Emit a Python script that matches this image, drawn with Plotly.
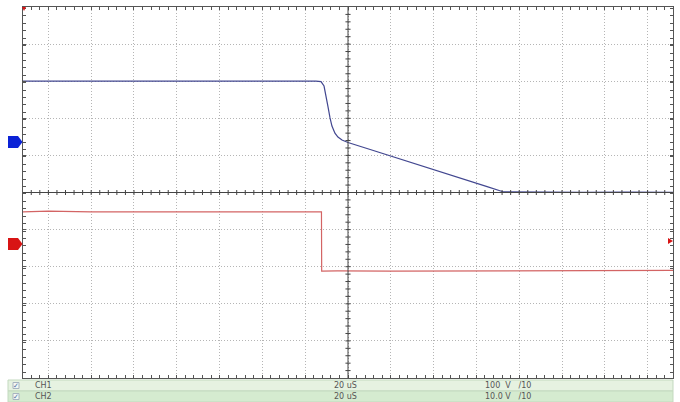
import numpy as np
import plotly.graph_objects as go

# ---------------- data (read from the screen capture) ----------------
# time in microseconds (20 us/div, trigger at centre)
ch1_t = [-151.9, -120, -90, -60, -30, -15, -12.6, -11.2, -10.3, -9.4, -8.4, -7.5,
         -6.1, -4.7, -2.8, 0, 10, 20.6, 30, 43, 55, 65, 72.4, 90, 110, 130, 151.9]
ch1_v = [164, 164.5, 164, 164.3, 164, 164, 163, 151, 127, 97, 65, 43,
         24, 13.5, 5.4, -1.3, -19.5, -38.5, -56, -80, -102, -120, -134, -135, -135.5, -135, -135.5]

ch2_t = [-151.9, -140, -120, -80, -40, -13, -12.4, -12.3, -5, 20, 60, 100, 151.9]
ch2_v = [8.7, 8.9, 8.7, 8.7, 8.75, 8.7, 8.7, -7.3, -7.25, -7.3, -7.2, -7.15, -7.1]

channels = ["CH1", "CH2"]
timebase = ["20 uS", "20 uS"]
vscale_txt = ["100  V   /10", "10.0 V   /10"]

# channel settings
ch1_vdiv, ch1_off = 100.0, 1.36    # volts/div, ground marker offset (div)
ch2_vdiv, ch2_off = 10.0, -1.39
t_div = 20.0
half_div_x = 7.593

W, H = 680, 402
L, R, T, B = 23, 7, 7, 24
pw, ph = W - L - R, H - T - B

def px(xp):  # pixel x -> paper
    return (xp - L) / pw

def py(yp):  # pixel y -> paper
    return (H - B - yp) / ph

fig = go.Figure()
fig.add_trace(go.Scatter(x=ch1_t, y=ch1_v, mode="lines", yaxis="y",
                         line=dict(color="#424790", width=1.2), hoverinfo="skip"))
fig.add_trace(go.Scatter(x=ch2_t, y=ch2_v, mode="lines", yaxis="y2",
                         line=dict(color="#d36464", width=1.2), hoverinfo="skip"))

shapes = []
# centre crosshair
shapes.append(dict(type="line", xref="x", yref="paper", x0=0, x1=0, y0=0, y1=1,
                   line=dict(color="#444", width=1)))
shapes.append(dict(type="line", xref="paper", yref="paper", x0=0, x1=1, y0=0.5, y1=0.5,
                   line=dict(color="#444", width=1)))
for t in np.arange(-148, 152, 4.0):
    shapes.append(dict(type="line", xref="x", yref="paper", x0=t, x1=t,
                       y0=0.5 - 2.5 / ph, y1=0.5 + 2.5 / ph, line=dict(color="#444", width=1)))
for k in np.arange(-4.8, 5.0, 0.2):
    yy = 0.5 + k / 10
    shapes.append(dict(type="line", xref="x", yref="paper", x0=-0.06 * t_div, x1=0.06 * t_div,
                       y0=yy, y1=yy, line=dict(color="#444", width=1)))

# ground reference markers
def ref_marker(yref, unit):
    return dict(type="path", xref="paper", yref=yref, line=dict(width=0),
                fillcolor="#0b22d6" if yref == "y" else "#d81414",
                path=f"M {px(8)},{6*unit} L {px(18)},{6*unit} L {px(22.5)},0 "
                     f"L {px(18)},{-6*unit} L {px(8)},{-6*unit} Z")
shapes.append(ref_marker("y", ch1_vdiv / 37.1))
shapes.append(ref_marker("y2", ch2_vdiv / 37.1))
# trigger level marker (right) and trigger position marker (top-left)
u2 = ch2_vdiv / 37.1
shapes.append(dict(type="path", xref="paper", yref="y2", line=dict(width=0), fillcolor="#d81414",
                   path=f"M {px(668)},{0.8+3*u2} L {px(673)},0.8 L {px(668)},{0.8-3*u2} Z"))
shapes.append(dict(type="path", xref="paper", yref="paper", line=dict(width=0), fillcolor="#d81414",
                   path=f"M {px(22)},{py(7)} L {px(26)},{py(7)} L {px(24)},{py(11)} Z"))

# status bar
shapes.append(dict(type="rect", xref="paper", yref="paper", x0=px(8), x1=px(673),
                   y0=py(391), y1=py(380), fillcolor="#e6f2e1", line=dict(color="#c3d9bf", width=1)))
shapes.append(dict(type="rect", xref="paper", yref="paper", x0=px(8), x1=px(673),
                   y0=py(402), y1=py(391), fillcolor="#d5ebd0", line=dict(color="#c3d9bf", width=1)))
annotations = []
for i, (c, tb, vs) in enumerate(zip(channels, timebase, vscale_txt)):
    yc = 385.5 + 11 * i
    shapes.append(dict(type="rect", xref="paper", yref="paper", x0=px(13), x1=px(19),
                       y0=py(yc + 3), y1=py(yc - 3), fillcolor="#f4f8f4",
                       line=dict(color="#a8b4c0", width=1)))
    common = dict(xref="paper", yref="paper", y=py(yc), yanchor="middle", showarrow=False)
    annotations.append(dict(x=px(16), text="✓", xanchor="center",
                            font=dict(size=7, color="#4a6fa0", family="DejaVu Sans"), **common))
    annotations.append(dict(x=px(33), text=c, xanchor="left",
                            font=dict(size=8, color="#555", family="DejaVu Sans"), **common))
    annotations.append(dict(x=px(332), text=tb, xanchor="left",
                            font=dict(size=8, color="#555", family="DejaVu Sans"), **common))
    annotations.append(dict(x=px(483), text=vs, xanchor="left",
                            font=dict(size=8, color="#555", family="DejaVu Sans"), **common))

grid = dict(showgrid=True, gridcolor="#b5b5b5", griddash="1px,2px", gridwidth=1, zeroline=False,
            showticklabels=False, showline=True, linecolor="#555", linewidth=1, mirror="allticks",
            ticks="inside", ticklen=3, tickcolor="#555")

fig.update_layout(
    width=W, height=H, margin=dict(l=L, r=R, t=T, b=B),
    paper_bgcolor="white", plot_bgcolor="white", showlegend=False,
    xaxis=dict(range=[-half_div_x * t_div, half_div_x * t_div], tick0=0, dtick=t_div,
               minor=dict(dtick=t_div / 5, ticks="inside", ticklen=3, tickcolor="#555", showgrid=False),
               **grid),
    yaxis=dict(range=[(-5 - ch1_off) * ch1_vdiv, (5 - ch1_off) * ch1_vdiv],
               tick0=-ch1_off * ch1_vdiv, dtick=ch1_vdiv,
               minor=dict(dtick=ch1_vdiv / 5, ticks="inside", ticklen=3, tickcolor="#555", showgrid=False),
               **grid),
    yaxis2=dict(range=[(-5 - ch2_off) * ch2_vdiv, (5 - ch2_off) * ch2_vdiv], overlaying="y",
                showgrid=False, showticklabels=False, zeroline=False, ticks=""),
    shapes=shapes, annotations=annotations,
)
fig.write_html("out.html", config={"displayModeBar": False},
               post_script="document.body.style.margin='0';")
